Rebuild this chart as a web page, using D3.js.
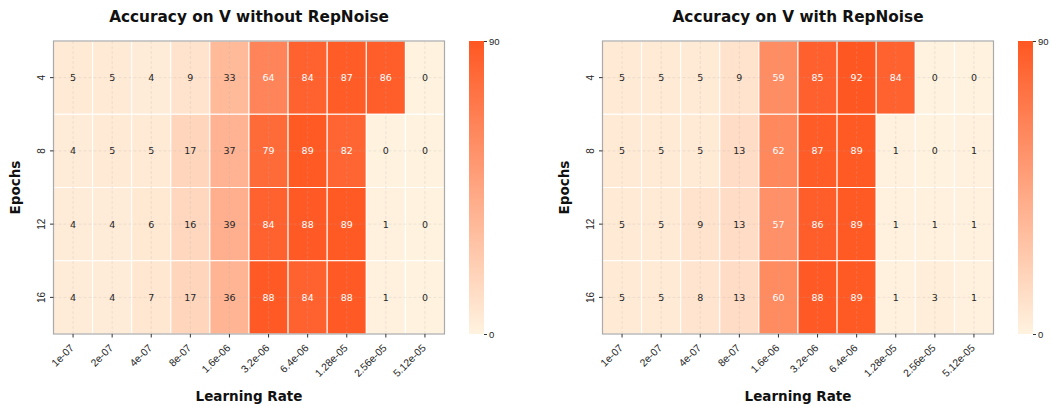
<!DOCTYPE html>
<html><head><meta charset="utf-8">
<script src="https://cdn.jsdelivr.net/npm/d3@7"></script>
<style>body{margin:0;background:#fff;font-family:"DejaVu Sans",sans-serif}</style>
</head><body><svg id="c" width="1052" height="406"></svg>
<script>
const learningRates = ["1e-07","2e-07","4e-07","8e-07","1.6e-06","3.2e-06","6.4e-06","1.28e-05","2.56e-05","5.12e-05"];
const epochs = ["4","8","12","16"];
const withoutRepNoise = [
  [5,5,4,9,33,64,84,87,86,0],
  [4,5,5,17,37,79,89,82,0,0],
  [4,4,6,16,39,84,88,89,1,0],
  [4,4,7,17,36,88,84,88,1,0]
];
const withRepNoise = [
  [5,5,5,9,59,85,92,84,0,0],
  [5,5,5,13,62,87,89,1,0,1],
  [5,5,9,13,57,86,89,1,1,1],
  [5,5,8,13,60,88,89,1,3,1]
];
const titles = ["Accuracy on V without RepNoise","Accuracy on V with RepNoise"];
const colorTicks = [0,90];

const svg = d3.select("#c");
const color = d3.scaleLinear().domain([0,90]).range(["#fff3e0","#ff5722"]).clamp(true);
const panels = [
  {data: withoutRepNoise, title: titles[0], x0: 53.5, x1: 444.5, cb: 469},
  {data: withRepNoise, title: titles[1], x0: 602.5, x1: 993.5, cb: 1018}
];
const y0 = 41, y1 = 334;
const defs = svg.append("defs");
const grad = defs.append("linearGradient").attr("id","cbg").attr("x1","0").attr("y1","1").attr("x2","0").attr("y2","0");
d3.range(0,1.01,0.1).forEach(t=>grad.append("stop").attr("offset",t).attr("stop-color",color(t*90)));

panels.forEach(p=>{
  const g = svg.append("g");
  const x = d3.scaleBand().domain(learningRates).range([p.x0,p.x1]);
  const y = d3.scaleBand().domain(epochs).range([y0,y1]);
  const cells = [];
  p.data.forEach((row,i)=>row.forEach((v,j)=>cells.push({e:epochs[i],lr:learningRates[j],v})));
  g.selectAll("rect.cell").data(cells).join("rect").attr("class","cell")
    .attr("x",d=>x(d.lr)).attr("y",d=>y(d.e)).attr("width",x.bandwidth()).attr("height",y.bandwidth())
    .attr("fill",d=>color(d.v)).attr("stroke","#fff").attr("stroke-width",1);
  // grid
  g.selectAll("line.gx").data(learningRates).join("line")
    .attr("x1",d=>x(d)+x.bandwidth()/2).attr("x2",d=>x(d)+x.bandwidth()/2).attr("y1",y0).attr("y2",y1)
    .attr("stroke","#b0b0b0").attr("stroke-opacity",0.3).attr("stroke-dasharray","3,2").attr("stroke-width",0.8);
  g.selectAll("line.gy").data(epochs).join("line")
    .attr("y1",d=>y(d)+y.bandwidth()/2).attr("y2",d=>y(d)+y.bandwidth()/2).attr("x1",p.x0).attr("x2",p.x1)
    .attr("stroke","#b0b0b0").attr("stroke-opacity",0.3).attr("stroke-dasharray","3,2").attr("stroke-width",0.8);
  g.selectAll("text.val").data(cells).join("text")
    .attr("x",d=>x(d.lr)+x.bandwidth()/2).attr("y",d=>y(d.e)+y.bandwidth()/2)
    .attr("text-anchor","middle").attr("dominant-baseline","central")
    .attr("font-size",9.5).attr("fill",d=>d.v>50?"#fff":"#262626").text(d=>d.v);
  g.append("rect").attr("x",p.x0).attr("y",y0).attr("width",p.x1-p.x0).attr("height",y1-y0)
    .attr("fill","none").attr("stroke","#aaaaaa").attr("stroke-width",1.2);
  // axes
  const xa = g.append("g").attr("transform",`translate(0,${y1})`).call(d3.axisBottom(x).tickSize(3.5).tickPadding(3));
  xa.select(".domain").remove();
  xa.selectAll(".tick line").attr("stroke","#333");
  xa.selectAll("text").attr("font-size",10.4).attr("fill","#262626").attr("text-anchor","end")
    .attr("x",0).attr("y",0).attr("dy","0.35em")
    .attr("transform","translate(-1,12) rotate(-45)");
  const ya = g.append("g").attr("transform",`translate(${p.x0},0)`).call(d3.axisLeft(y).tickSize(3.5).tickPadding(3));
  ya.select(".domain").remove();
  ya.selectAll(".tick line").attr("stroke","#333");
  ya.selectAll("text").attr("font-size",10).attr("fill","#262626").attr("text-anchor","middle")
    .attr("x",0).attr("y",0).attr("dy","0.35em").attr("transform","translate(-12.5,0) rotate(-90)");
  // title & labels
  svg.append("text").attr("x",(p.x0+p.x1)/2).attr("y",22.3).attr("text-anchor","middle")
    .attr("font-size",15.3).attr("font-weight","bold").attr("fill","#111").text(p.title);
  svg.append("text").attr("x",(p.x0+p.x1)/2).attr("y",401).attr("text-anchor","middle")
    .attr("font-size",13.5).attr("font-weight","bold").attr("fill","#111").text("Learning Rate");
  svg.append("text").attr("transform",`translate(${p.x0-33.5},${(y0+y1)/2}) rotate(-90)`).attr("text-anchor","middle")
    .attr("font-size",13.5).attr("font-weight","bold").attr("fill","#111").text("Epochs");
  // colorbar
  const cy = d3.scaleLinear().domain([0,90]).range([y1,y0]);
  svg.append("rect").attr("x",p.cb).attr("y",y0).attr("width",15).attr("height",y1-y0).attr("fill","url(#cbg)");
  const ca = svg.append("g").attr("transform",`translate(${p.cb+15},0)`).call(d3.axisRight(cy).tickValues(colorTicks).tickSize(3).tickPadding(2));
  ca.select(".domain").remove();
  ca.selectAll(".tick line").attr("stroke","#333");
  ca.selectAll("text").attr("font-size",9.5).attr("fill","#262626");
});
</script></body></html>
